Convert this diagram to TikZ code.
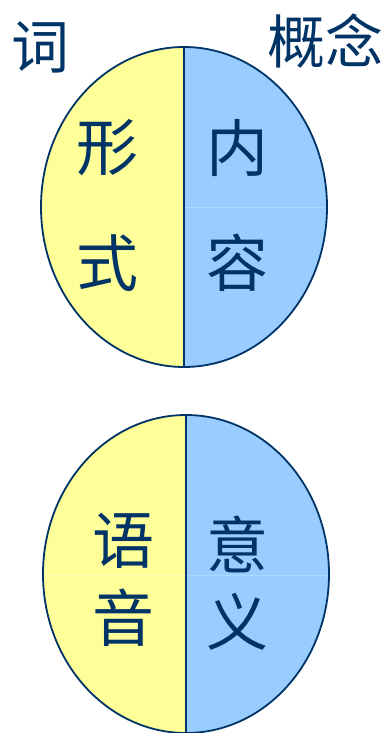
\documentclass[tikz,border=0pt]{standalone}
\usepackage{fontspec}
\newfontfamily\cjk{Noto Sans CJK SC}
\definecolor{yel}{HTML}{FFFF99}
\definecolor{blu}{HTML}{99CCFF}
\definecolor{navy}{HTML}{003366}
\definecolor{faintyel}{HTML}{FFFFB8}
\definecolor{faintblu}{HTML}{B0D8FF}
\tikzset{
  outline/.style={draw=navy, line width=1.8pt},
  word/.style={text=navy, font=\cjk\fontsize{62}{62}\selectfont, inner sep=0pt, anchor=center},
  title/.style={text=navy, font=\cjk\fontsize{58}{58}\selectfont, inner sep=0pt, anchor=center},
  faint/.style={line width=1pt}
}
\begin{document}
\begin{tikzpicture}[x=1pt,y=-1pt]
\useasboundingbox (0,0) rectangle (391,733);
% top ellipse
\fill[yel] (184,47) arc[start angle=270,end angle=90,x radius=143,y radius=160] -- cycle;
\fill[blu] (184,47) arc[start angle=-90,end angle=90,x radius=143,y radius=160] -- cycle;
\draw[faint, faintblu] (184,207) -- (326,207);
\draw[outline] (184,207) ellipse [x radius=143, y radius=160];
\draw[outline] (184,47) -- (184,367);
% bottom ellipse
\fill[yel] (186,415) arc[start angle=270,end angle=90,x radius=143,y radius=159] -- cycle;
\fill[blu] (186,415) arc[start angle=-90,end angle=90,x radius=143,y radius=159] -- cycle;
\draw[faint, faintyel] (44,575) -- (185,575);
\draw[faint, faintblu] (187,575) -- (328,575);
\draw[outline] (186,574) ellipse [x radius=143, y radius=159];
\draw[outline] (186,415) -- (186,733);
% titles
\node[title] (ci) at (40,47) {词};
\node[title] (gn) at (325,41) {概念};
% top words
\node[word] (xing) at (107,148) {形};
\node[word] (shi) at (107,263) {式};
\node[word] (nei) at (237,148) {内};
\node[word] (rong) at (237,263) {容};
% bottom words
\node[word] (yu) at (123,541) {语};
\node[word] (yin) at (123,618) {音};
\node[word] (yi) at (237,544) {意};
\node[word] (yi2) at (237,622) {义};
\end{tikzpicture}
\end{document}
